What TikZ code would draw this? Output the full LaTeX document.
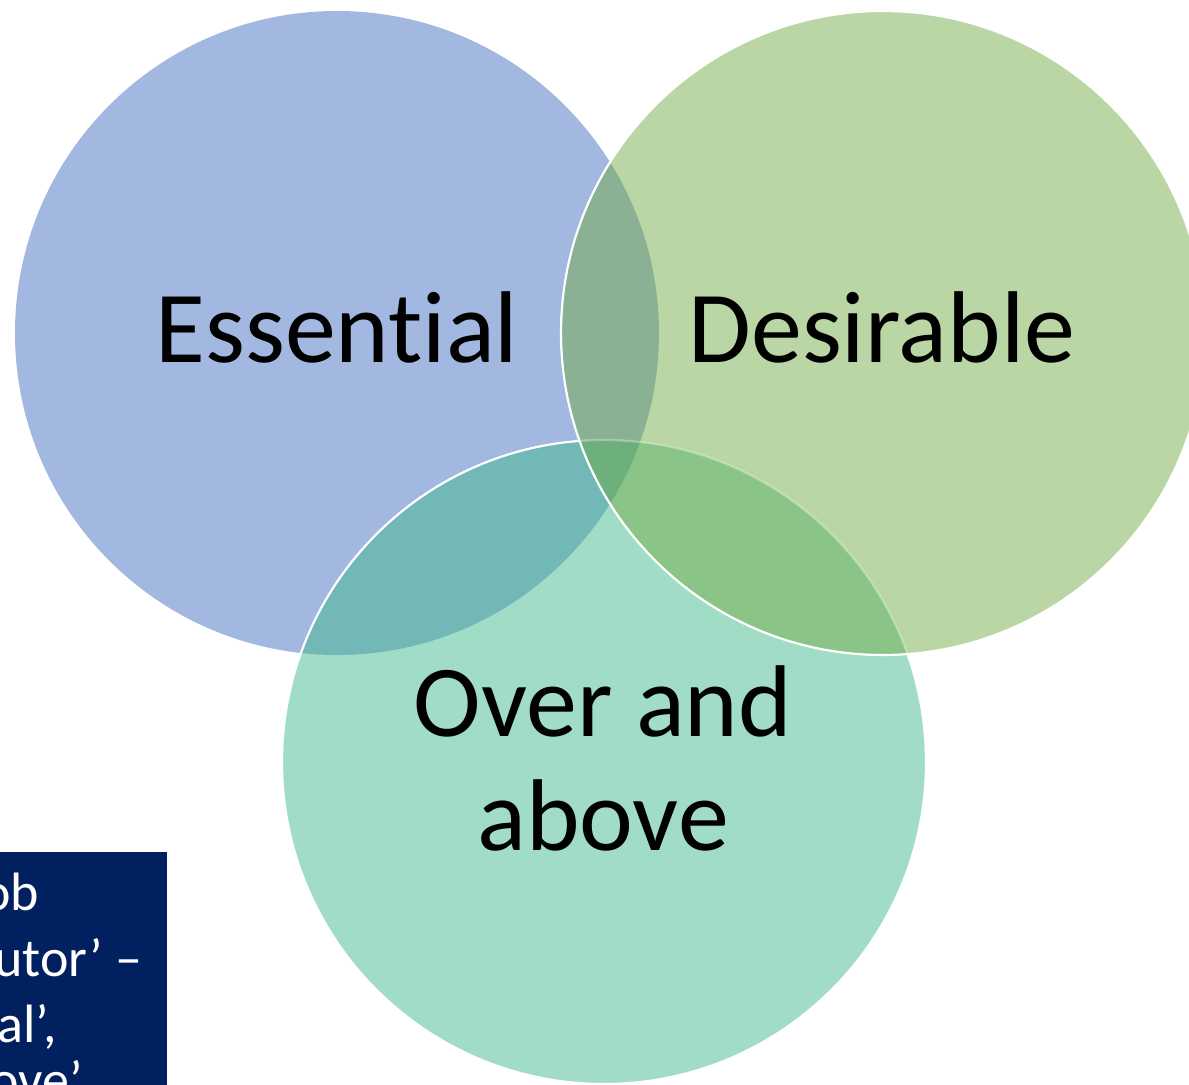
\documentclass[tikz,border=0pt]{standalone}
\usepackage{fontspec}
\setmainfont{Carlito}[Ligatures={CommonOff}]
\definecolor{cblue}{RGB}{162,184,224}
\definecolor{cgreen}{RGB}{185,214,164}
\definecolor{cteal}{RGB}{161,220,199}
\definecolor{cbg}{RGB}{138,177,147}
\definecolor{cbt}{RGB}{114,184,182}
\definecolor{cgt}{RGB}{138,197,135}
\definecolor{cbgt}{RGB}{109,176,125}
\definecolor{navy}{RGB}{0,32,96}
\begin{document}
\begin{tikzpicture}[x=0.5pt,y=-0.5pt,
  bigtext/.style={font=\fontsize{51}{57}\selectfont, text=black, inner sep=0pt, anchor=base},
  boxtext/.style={font=\fontsize{27}{33}\selectfont, text=white, inner sep=0pt, anchor=base west},
  rim/.style={draw=white, line width=1.1pt}]
\useasboundingbox (0,0) rectangle (1189,1085);
\def\R{161pt}
\coordinate (B) at (337,333);
\coordinate (G) at (883,333);
\coordinate (T) at (604,762);
% single fills
\fill[cblue] (B) circle[radius=\R];
\fill[cgreen] (G) circle[radius=\R];
\fill[cteal] (T) circle[radius=\R];
% pairwise overlaps
\begin{scope}
  \clip (B) circle[radius=\R];
  \fill[cbg] (G) circle[radius=\R];
  \fill[cbt] (T) circle[radius=\R];
\end{scope}
\begin{scope}
  \clip (G) circle[radius=\R];
  \fill[cgt] (T) circle[radius=\R];
  \begin{scope}
    \clip (B) circle[radius=\R];
    \fill[cbgt] (T) circle[radius=\R];
  \end{scope}
\end{scope}
% white rims
\draw[rim] (G) circle[radius=\R];
\begin{scope}
  \clip (G) circle[radius=\R];
  \draw[rim, draw opacity=0.3] (T) circle[radius=\R];
\end{scope}
\begin{scope}[even odd rule]
  \path[clip] (-20,-20) rectangle (1220,1120) (G) circle[radius=\R];
  \draw[rim] (T) circle[radius=\R];
\end{scope}
% labels
\node[bigtext] (ess) at (337,363) {Essential};
\node[bigtext] (des) at (882,363) {Desirable};
\node[bigtext] (over) at (603,736) {Over and};
\node[bigtext] (above) at (603,850) {above};
% dark box with clipped text
\fill[navy] (0,852) rectangle (167,1085);
\begin{scope}
  \clip (0,852) rectangle (167,1085);
  \node[boxtext] (l1) at (-18,910) {ob};
  \node[boxtext] (l2) at (-6,976) {utor’ –};
  \node[boxtext] (l3) at (-3,1042) {al’,};
  \node[boxtext] (l4) at (-10,1098) {ove’};
\end{scope}
\end{tikzpicture}
\end{document}
